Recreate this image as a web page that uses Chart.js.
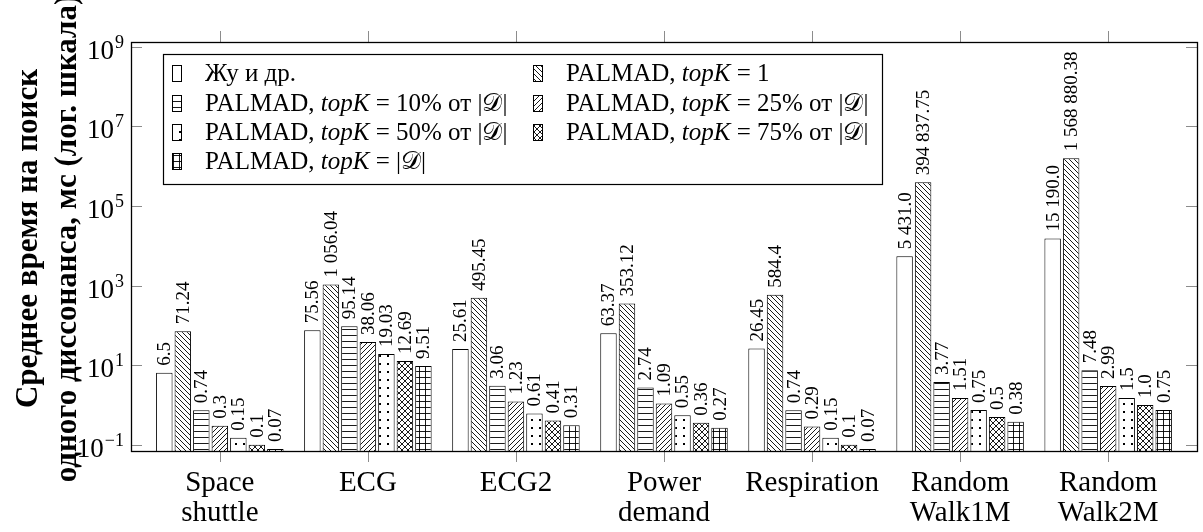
<!DOCTYPE html>
<html>
<head>
<meta charset="utf-8">
<script src="https://cdn.jsdelivr.net/npm/chart.js@4"></script>
<style>
  html, body { margin: 0; padding: 0; background: #fff; }
  #wrap { width: 1203px; height: 532px; }
</style>
</head>
<body>
<div id="wrap"><canvas id="chart" width="1203" height="532"></canvas></div>
<script>
// ---- data ----
const categories = [['Space', 'shuttle'], ['ECG'], ['ECG2'], ['Power', 'demand'], ['Respiration'], ['Random', 'Walk1M'], ['Random', 'Walk2M']];
const zhuEtAl  = [6.5, 75.56, 25.61, 63.37, 26.45, 5431.0, 15190.0];
const topK1    = [71.24, 1056.04, 495.45, 353.12, 584.4, 394837.75, 1568880.38];
const topK10   = [0.74, 95.14, 3.06, 2.74, 0.74, 3.77, 7.48];
const topK25   = [0.3, 38.06, 1.23, 1.09, 0.29, 1.51, 2.99];
const topK50   = [0.15, 19.03, 0.61, 0.55, 0.15, 0.75, 1.5];
const topK75   = [0.1, 12.69, 0.41, 0.36, 0.1, 0.5, 1.0];
const topKAll  = [0.07, 9.51, 0.31, 0.27, 0.07, 0.38, 0.75];
const yTickExponents = [-1, 1, 3, 5, 7, 9];

// legend entries: [text, italic?] segments
const seriesNames = [
  [['Жу и др.', false]],
  [['PALMAD, ', false], ['topK', true], [' = 1', false]],
  [['PALMAD, ', false], ['topK', true], [' = 10% от |', false], ['𝒟', false], ['|', false]],
  [['PALMAD, ', false], ['topK', true], [' = 25% от |', false], ['𝒟', false], ['|', false]],
  [['PALMAD, ', false], ['topK', true], [' = 50% от |', false], ['𝒟', false], ['|', false]],
  [['PALMAD, ', false], ['topK', true], [' = 75% от |', false], ['𝒟', false], ['|', false]],
  [['PALMAD, ', false], ['topK', true], [' = |', false], ['𝒟', false], ['|', false]]
];
const seriesValues = [zhuEtAl, topK1, topK10, topK25, topK50, topK75, topKAll];
const seriesHatch = ['none', 'nwLines', 'hLines', 'neLines', 'dots', 'cross', 'grid'];

// ---- hatch patterns ----
function makePattern(kind) {
  if (kind === 'none') return '#ffffff';
  const s = kind === 'dots' ? 8 : (kind === 'nwLines' || kind === 'neLines') ? 5 : 6;
  const c = document.createElement('canvas');
  c.width = s; c.height = s;
  const g = c.getContext('2d');
  g.fillStyle = '#fff'; g.fillRect(0, 0, s, s);
  g.strokeStyle = '#000'; g.fillStyle = '#000'; g.lineWidth = 0.9;
  g.beginPath();
  if (kind === 'nwLines' || kind === 'cross') {
    for (const k of [-s, 0, s]) { g.moveTo(k, 0); g.lineTo(k + s, s); }
  }
  if (kind === 'neLines' || kind === 'cross') {
    for (const k of [-s, 0, s]) { g.moveTo(k, s); g.lineTo(k + s, 0); }
  }
  if (kind === 'hLines' || kind === 'grid') { g.moveTo(0, s - 0.5); g.lineTo(s, s - 0.5); }
  if (kind === 'grid') { g.moveTo(s - 0.5, 0); g.lineTo(s - 0.5, s); }
  g.stroke();
  if (kind === 'dots') g.fillRect(3, 3, 2, 2);
  return g.createPattern(c, 'repeat');
}

function fmtValue(v) {
  let [ip, dp] = String(v).split('.');
  if (dp === undefined) dp = '0';
  ip = ip.replace(/\B(?=(\d{3})+(?!\d))/g, ' ');
  return ip + '.' + dp;
}

const SERIF = '"Liberation Serif", "DejaVu Serif", serif';

const datasets = seriesValues.map((vals, si) => ({
  label: seriesNames[si].map(s => s[0]).join(''),
  data: vals.map((v, i) => ({ x: i, y: v })),
  backgroundColor: makePattern(seriesHatch[si]),
  borderColor: '#000',
  borderWidth: 1,
  minBarLength: 2
}));

// ---- decorations: frame, ticks, labels, legend ----
const decor = {
  id: 'decor',
  beforeDraw(chart) {
    const ctx = chart.ctx;
    ctx.save();
    ctx.fillStyle = '#fff';
    ctx.fillRect(0, 0, chart.width, chart.height);
    ctx.restore();
  },
  afterDatasetsDraw(chart) {
    const ctx = chart.ctx;
    const a = chart.chartArea;
    const xs = chart.scales.x, ys = chart.scales.y;
    ctx.save();

    // value labels above bars
    ctx.fillStyle = '#000';
    ctx.font = '19px ' + SERIF;
    ctx.textAlign = 'left';
    ctx.textBaseline = 'middle';
    chart.data.datasets.forEach((ds, di) => {
      const meta = chart.getDatasetMeta(di);
      meta.data.forEach((el, i) => {
        ctx.save();
        ctx.translate(el.x + 1, el.y - 7);
        ctx.rotate(-Math.PI / 2);
        ctx.fillText(fmtValue(ds.data[i].y), 0, 0);
        ctx.restore();
      });
    });

    // ticks
    ctx.strokeStyle = '#8c8c8c';
    ctx.lineWidth = 1;
    ctx.beginPath();
    yTickExponents.forEach(e => {
      const y = Math.round(ys.getPixelForValue(Math.pow(10, e))) + 0.5;
      ctx.moveTo(a.left, y); ctx.lineTo(a.left + 11, y);
      ctx.moveTo(a.right, y); ctx.lineTo(a.right - 11, y);
    });
    categories.forEach((c, i) => {
      const x = Math.round(xs.getPixelForValue(i)) + 0.5;
      ctx.moveTo(x, a.bottom); ctx.lineTo(x, a.bottom + 11);
      ctx.moveTo(x, a.top); ctx.lineTo(x, a.top - 11);
    });
    ctx.stroke();

    // frame
    ctx.strokeStyle = '#000';
    ctx.lineWidth = 1.3;
    ctx.strokeRect(Math.round(a.left) + 0.5, Math.round(a.top) + 0.5, Math.round(a.right - a.left), Math.round(a.bottom - a.top));

    // y tick labels: 10^e
    ctx.fillStyle = '#000';
    ctx.textAlign = 'left';
    ctx.textBaseline = 'alphabetic';
    yTickExponents.forEach(e => {
      const y = ys.getPixelForValue(Math.pow(10, e));
      const exp = e < 0 ? '\u2212' + Math.abs(e) : String(e);
      ctx.font = '27px ' + SERIF;
      const wb = ctx.measureText('10').width;
      ctx.font = '18px ' + SERIF;
      const we = ctx.measureText(exp).width;
      const x0 = 124 - wb - we - 1;
      ctx.font = '27px ' + SERIF;
      ctx.fillText('10', x0, y + 12);
      ctx.font = '18px ' + SERIF;
      ctx.fillText(exp, x0 + wb + 1, y + 1);
    });

    // x category labels
    ctx.font = '29px ' + SERIF;
    ctx.textAlign = 'center';
    categories.forEach((lines, i) => {
      const x = xs.getPixelForValue(i);
      lines.forEach((t, li) => ctx.fillText(t, x, 491 + li * 30));
    });

    // y axis title (two lines)
    ctx.font = 'bold 31px ' + SERIF;
    ctx.textAlign = 'center';
    const titleLines = ['Среднее время на поиск', 'одного диссонанса, мс (лог. шкала)'];
    const cy = (a.top + a.bottom) / 2 - 8;
    [[titleLines[0], 37], [titleLines[1], 76]].forEach(([t, bx]) => {
      ctx.save();
      ctx.translate(bx, cy);
      ctx.rotate(-Math.PI / 2);
      ctx.fillText(t, 0, 0);
      ctx.restore();
    });

    // legend box
    const box = { l: 163, t: 54, r: 882, b: 184 };
    ctx.fillStyle = '#fff';
    ctx.fillRect(box.l, box.t, box.r - box.l, box.b - box.t);
    ctx.strokeStyle = '#000';
    ctx.lineWidth = 1.2;
    ctx.strokeRect(box.l + 0.5, box.t + 0.5, box.r - box.l, box.b - box.t);
    const rowY = [73, 103, 132, 161];
    const colSwatch = [172, 533];
    const colText = [205, 566];
    chart.data.datasets.forEach((ds, di) => {
      const r = Math.floor(di / 2), c = di % 2;
      const yc = rowY[r];
      ctx.fillStyle = ds.backgroundColor;
      ctx.fillRect(colSwatch[c], yc - 8, 9, 16);
      ctx.strokeStyle = '#000';
      ctx.lineWidth = 1;
      ctx.strokeRect(colSwatch[c] + 0.5, yc - 8 + 0.5, 9, 16);
      let x = colText[c];
      ctx.fillStyle = '#000';
      ctx.textAlign = 'left';
      seriesNames[di].forEach(([t, it]) => {
        ctx.font = (it ? 'italic ' : '') + '25px ' + SERIF;
        ctx.fillText(t, x, yc + 8);
        x += ctx.measureText(t).width;
      });
    });

    ctx.restore();
  }
};

new Chart(document.getElementById('chart'), {
  type: 'bar',
  data: { datasets },
  options: {
    responsive: false,
    animation: false,
    devicePixelRatio: 1,
    layout: { padding: { left: 131, right: 6, top: 42, bottom: 81 } },
    datasets: { bar: { categoryPercentage: 0.875, barPercentage: 0.89, borderSkipped: 'start' } },
    scales: {
      x: {
        type: 'linear',
        min: -0.6,
        max: 6.6,
        offset: false,
        display: false,
        afterBuildTicks: s => { s.ticks = categories.map((c, i) => ({ value: i })); }
      },
      y: {
        type: 'logarithmic',
        min: 0.07,
        max: 1.31e9,
        display: false
      }
    },
    plugins: { legend: { display: false }, tooltip: { enabled: false } }
  },
  plugins: [decor]
});
</script>
</body>
</html>
